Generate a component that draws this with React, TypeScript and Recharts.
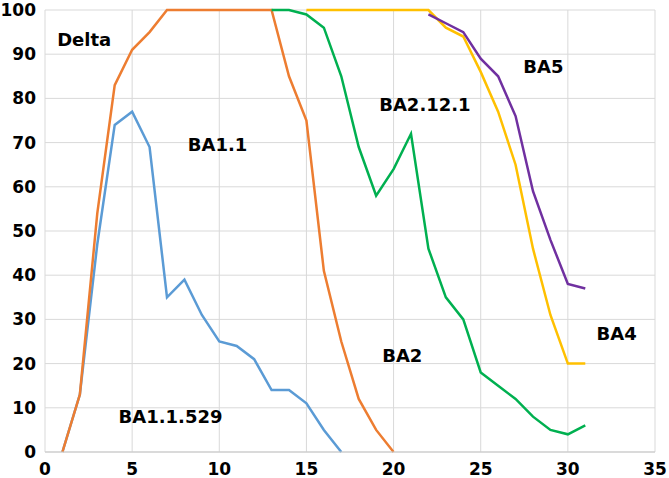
import { LineChart, Line, XAxis, YAxis, CartesianGrid, ReferenceDot } from "recharts";

const days = [1, 2, 3, 4, 5, 6, 7, 8, 9, 10, 11, 12, 13, 14, 15, 16, 17, 18, 19, 20, 21, 22, 23, 24, 25, 26, 27, 28, 29, 30, 31];

const delta = [0, 13, 54, 83, 91, 95, 100, 100, 100, 100, 100, 100, 100, 85, 75, 41, 25, 12, 5, 0, null, null, null, null, null, null, null, null, null, null, null];
const ba1529 = [0, 13, 47, 74, 77, 69, 35, 39, 31, 25, 24, 21, 14, 14, 11, 5, 0, null, null, null, null, null, null, null, null, null, null, null, null, null, null];
const ba2121 = [null, null, null, null, null, null, null, null, null, null, null, null, 100, 100, 99, 96, 85, 69, 58, 64, 72, 46, 35, 30, 18, 15, 12, 8, 5, 4, 6];
const ba4 = [null, null, null, null, null, null, null, null, null, null, null, null, null, null, 100, 100, 100, 100, 100, 100, 100, 100, 96, 94, 86, 77, 65, 46, 31, 20, 20];
const ba5 = [null, null, null, null, null, null, null, null, null, null, null, null, null, null, null, null, null, null, null, null, null, 99, 97, 95, 89, 85, 76, 59, 48, 38, 37];

const xTicks = [0, 5, 10, 15, 20, 25, 30, 35];
const yTicks = [0, 10, 20, 30, 40, 50, 60, 70, 80, 90, 100];

const labels = [
  { text: "Delta", x: 2.25, y: 93.2 },
  { text: "BA1.1", x: 9.9, y: 69.5 },
  { text: "BA1.1.529", x: 7.2, y: 7.9 },
  { text: "BA2", x: 20.5, y: 21.7 },
  { text: "BA2.12.1", x: 21.8, y: 78.5 },
  { text: "BA5", x: 28.6, y: 87.3 },
  { text: "BA4", x: 32.8, y: 26.7 },
];

const data = days.map((d, i) => ({
  day: d,
  delta: delta[i],
  ba1529: ba1529[i],
  ba2121: ba2121[i],
  ba4: ba4[i],
  ba5: ba5[i],
}));

const font = "'DejaVu Sans', sans-serif";
const tickStyle = { fontFamily: font, fontWeight: "bold", fontSize: 17, fill: "#000" };

export default function App() {
  return (
    <div style={{ position: "absolute", left: 0, top: 0, background: "#fff" }}>
      <LineChart width={669} height={478} data={data} margin={{ top: 10, right: 14, bottom: 0, left: 0 }}>
        <CartesianGrid stroke="#d9d9d9" strokeWidth={1} />
        <XAxis
          dataKey="day"
          type="number"
          domain={[0, 35]}
          ticks={xTicks}
          tickSize={0}
          tickMargin={11}
          height={26}
          axisLine={{ stroke: "#c8c8c8" }}
          tick={tickStyle}
        />
        <YAxis
          type="number"
          domain={[0, 100]}
          ticks={yTicks}
          tickSize={0}
          tickMargin={9}
          width={45}
          axisLine={false}
          tick={tickStyle}
        />
        <Line dataKey="ba1529" stroke="#5B9BD5" strokeWidth={2.5} dot={false} isAnimationActive={false} />
        <Line dataKey="delta" stroke="#ED7D31" strokeWidth={2.5} dot={false} isAnimationActive={false} />
        <Line dataKey="ba2121" stroke="#00B050" strokeWidth={2.5} dot={false} isAnimationActive={false} />
        <Line dataKey="ba4" stroke="#FFC000" strokeWidth={2.5} dot={false} isAnimationActive={false} />
        <Line dataKey="ba5" stroke="#7030A0" strokeWidth={2.5} dot={false} isAnimationActive={false} />
        {labels.map((l) => (
          <ReferenceDot
            key={l.text}
            x={l.x}
            y={l.y}
            r={0}
            fill="none"
            stroke="none"
            label={{ value: l.text, position: "center", fontFamily: font, fontWeight: "bold", fontSize: 18, fill: "#000" }}
          />
        ))}
      </LineChart>
    </div>
  );
}
